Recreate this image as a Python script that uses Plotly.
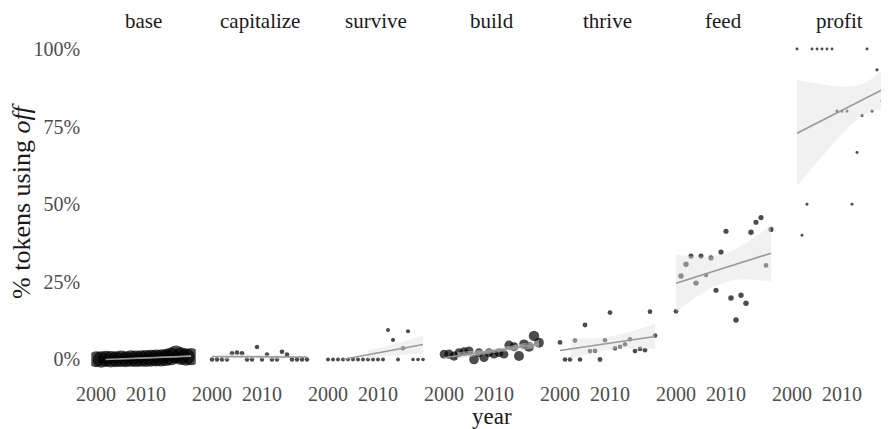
import numpy as np
import plotly.graph_objects as go

# ---------------- data (values in %, token counts used for size & weight) --------------
facets = ["base", "capitalize", "survive", "build", "thrive", "feed", "profit"]
years_all = list(range(2000, 2020))
years_profit = list(range(2001, 2020))

base_pct = [0.1, 0.0, 0.2, 0.1, 0.1, 0.2, 0.1, 0.3, 0.2, 0.3,
            0.3, 0.4, 0.5, 0.5, 0.7, 1.0, 1.6, 1.1, 0.8, 0.9]
base_n = [15000, 16000, 15000, 16000, 15000, 16000, 15000, 16000, 16000, 16000,
          17000, 17000, 17000, 18000, 18000, 19000, 20000, 19000, 18000, 18000]

capitalize_pct = [0, 0, 0, 0, 2.0, 2.2, 2.0, 0, 0, 4.0,
                  0, 1.6, 0, 0, 2.5, 1.6, 0, 0, 0, 0]
capitalize_n = [250, 250, 250, 250, 300, 300, 300, 250, 250, 250,
                200, 250, 250, 250, 300, 300, 250, 250, 250, 250]

survive_pct = [0, 0, 0, 0, 0, 0, 0, 0, 0, 0,
               0, 0, 9.5, 6.3, 0, 3.6, 9.1, 0, 0, 0]
survive_n = [120, 120, 120, 120, 80, 120, 120, 120, 120, 120,
             120, 120, 150, 150, 100, 250, 150, 60, 60, 60]

build_pct = [1.7, 1.7, 1.1, 2.2, 2.5, 2.7, 0.0, 2.2, 0.6, 2.2,
             1.7, 2.2, 1.7, 4.6, 4.1, 1.1, 4.9, 4.1, 7.6, 5.4]
build_n = [3000, 3500, 3500, 3000, 3000, 3500, 4000, 3000, 3500, 3000,
           3000, 3000, 3000, 3500, 3500, 4500, 4000, 4500, 5000, 4500]

thrive_pct = [5.5, 0, 0, 6.1, 0, 11.1, 2.7, 2.8, 0, 6.2,
              15.1, 3.6, 4.1, 4.9, 6.5, 2.7, 3.4, 3.0, 15.4, 7.7]
thrive_n = [350, 300, 300, 350, 300, 350, 300, 300, 350, 300,
            350, 300, 300, 300, 300, 350, 300, 300, 300, 350]

feed_pct = [15.5, 26.9, 30.7, 33.3, 24.6, 33.3, 27.2, 32.7, 22.3, 34.6,
            41.3, 19.8, 12.7, 20.7, 18.1, 41.0, 44.2, 45.7, 30.3, 41.9]
feed_n = [300, 600, 600, 450, 600, 450, 250, 500, 500, 500,
          500, 650, 650, 550, 650, 600, 450, 500, 350, 450]

profit_pct = [100, 40, 50, 100, 100, 100, 100, 100, 80, 80,
              80, 50, 66.7, 78.6, 100, 80, 93.3, 83.3, 90.9]
profit_n = [1, 1, 1, 1, 1, 1, 1, 1, 5, 5,
            5, 2, 3, 14, 1, 10, 15, 12, 22]

panel_data = [
    (years_all, base_pct, base_n),
    (years_all, capitalize_pct, capitalize_n),
    (years_all, survive_pct, survive_n),
    (years_all, build_pct, build_n),
    (years_all, thrive_pct, thrive_n),
    (years_all, feed_pct, feed_n),
    (years_profit, profit_pct, profit_n),
]

x_ticks = [2000, 2010]
y_ticks = [0, 0.25, 0.5, 0.75, 1.0]
y_ticktext = ["0%", "25%", "50%", "75%", "100%"]

# ---------------- helpers -----------------
W, H = 889, 429
OFF = 8  # page body margin in the browser
FONT = "Liberation Serif"
N_MAX = max(base_n)


def marker_diam(n):
    n = np.asarray(n, float)
    return 2.8 + 15.3 * np.sqrt(n / N_MAX)


def t975(df):
    z = 1.959963985
    return (z + (z**3 + z) / (4 * df) + (5 * z**5 + 16 * z**3 + 3 * z) / (96 * df**2)
            + (3 * z**7 + 19 * z**5 + 17 * z**3 - 15 * z) / (384 * df**3))


def wls_smooth(x, y, w, npts=80):
    x = np.asarray(x, float); y = np.asarray(y, float); w = np.asarray(w, float)
    sw = w.sum()
    xb = (w * x).sum() / sw
    yb = (w * y).sum() / sw
    sxx = (w * (x - xb) ** 2).sum()
    b = (w * (x - xb) * (y - yb)).sum() / sxx
    a = yb - b * xb
    r = y - (a + b * x)
    dfree = len(x) - 2
    s2 = (w * r ** 2).sum() / dfree
    xs = np.linspace(x.min(), x.max(), npts)
    fit = a + b * xs
    se = np.sqrt(s2 * (1.0 / sw + (xs - xb) ** 2 / sxx))
    t = t975(dfree)
    return xs, fit, fit - t * se, fit + t * se


def fx(px):  # screen px -> paper fraction (x)
    return (px - OFF) / W


def fy(py):  # screen px -> paper fraction (y)
    return 1 - (py - OFF) / H


# ---------------- layout geometry (screen pixels) -----------------
px_per_year = 5.0
x_lo, x_hi = 1999.05, 2019.95
panel_w = (x_hi - x_lo) * px_per_year
pitch = 116.0
left0 = 91.25
plot_top, plot_bot = 33.5, 375.0
visible_right = 889.0

fig = go.Figure()
layout = dict(
    width=W, height=H,
    margin=dict(l=0, r=0, t=0, b=0, autoexpand=False),
    paper_bgcolor="white", plot_bgcolor="white",
    showlegend=False,
    font=dict(family=FONT, color="#1a1a1a"),
)

annotations = []
ribbons = []
lines = []
for i, (name, (yrs, pct, n)) in enumerate(zip(facets, panel_data)):
    ax = "" if i == 0 else str(i + 1)
    l_px = left0 + pitch * i
    r_px = l_px + panel_w
    rng_hi = x_hi
    if r_px > visible_right:
        rng_hi = x_lo + (visible_right - l_px) / px_per_year
        r_px = visible_right
    layout["xaxis" + ax] = dict(
        domain=[fx(l_px), fx(r_px)], range=[x_lo, rng_hi], anchor="y",
        tickvals=x_ticks, ticktext=[str(v) for v in x_ticks],
        tickfont=dict(family=FONT, size=20, color="#4d4d4d"),
        showgrid=False, zeroline=False, showline=False, ticks="",
        ticklabelstandoff=5, automargin=False,
    )
    yv = np.asarray(pct, float) / 100.0
    fig.add_trace(go.Scatter(
        x=yrs, y=yv, mode="markers", xaxis="x" + ax, yaxis="y",
        marker=dict(size=marker_diam(n), color="black", line=dict(width=0)),
        hoverinfo="skip",
    ))
    xs, fit, lo, hi = wls_smooth(yrs, yv, n)
    valid = (lo >= 0) & (hi <= 1)
    idx = np.where(valid)[0]
    if len(idx):
        runs = np.split(idx, np.where(np.diff(idx) > 1)[0] + 1)
        for run in runs:
            if len(run) < 2:
                continue
            px_ = np.concatenate([xs[run], xs[run][::-1]])
            py_ = np.concatenate([hi[run], lo[run][::-1]])
            ribbons.append(go.Scatter(
                x=px_, y=py_, mode="lines", fill="toself",
                fillcolor="rgba(224,224,224,0.45)", line=dict(width=0),
                xaxis="x" + ax, yaxis="y", hoverinfo="skip"))
    fl = np.where((fit >= 0) & (fit <= 1), fit, np.nan)
    lines.append(go.Scatter(
        x=xs, y=[None if np.isnan(v) else v for v in fl], mode="lines",
        line=dict(color="#999999", width=1.6), xaxis="x" + ax, yaxis="y",
        hoverinfo="skip"))
    annotations.append(dict(
        x=fx(l_px + panel_w / 2), y=1.0, xref="paper", yref="paper", text=name,
        showarrow=False, xanchor="center", yanchor="top", borderpad=0,
        font=dict(family=FONT, size=21, color="#1a1a1a")))

for tr in ribbons + lines:
    fig.add_trace(tr)

layout["yaxis"] = dict(
    domain=[fy(plot_bot), fy(plot_top)], range=[-0.05, 1.05], anchor="x",
    tickvals=y_ticks, ticktext=y_ticktext,
    tickfont=dict(family=FONT, size=20, color="#4d4d4d"),
    showgrid=False, zeroline=False, showline=False, ticks="",
    ticklabelstandoff=10, automargin=False,
)

annotations.append(dict(
    x=fx(492), y=fy(416), xref="paper", yref="paper", text="year",
    showarrow=False, xanchor="center", yanchor="middle", borderpad=0,
    font=dict(family=FONT, size=23, color="#1a1a1a")))
annotations.append(dict(
    x=fx(21), y=fy(201), xref="paper", yref="paper",
    text="% tokens using <i>off</i>", textangle=-90,
    showarrow=False, xanchor="center", yanchor="middle",
    font=dict(family=FONT, size=26, color="#1a1a1a")))
layout["annotations"] = annotations

fig.update_layout(**layout)
fig.write_html("out.html")
